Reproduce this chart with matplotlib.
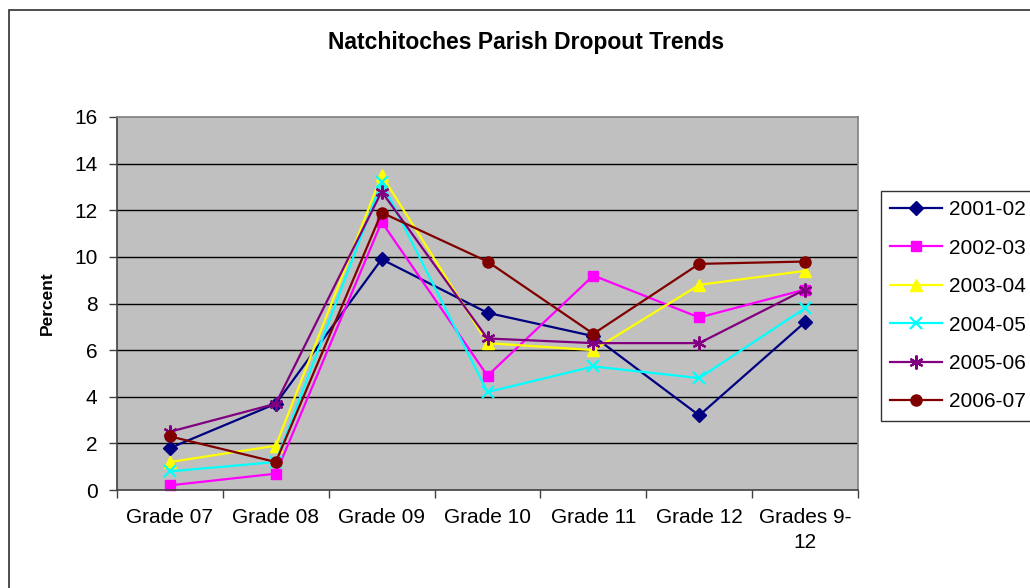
import matplotlib
matplotlib.use("Agg")
import matplotlib.pyplot as plt
from matplotlib.patches import Rectangle
from matplotlib.ticker import FixedLocator

plt.rcParams['font.family'] = ['Liberation Sans', 'DejaVu Sans']

grades = ["Grade 07", "Grade 08", "Grade 09", "Grade 10", "Grade 11",
          "Grade 12", "Grades 9-\n12"]
years = ["2001-02", "2002-03", "2003-04", "2004-05", "2005-06", "2006-07"]

y2001 = [1.8, 3.7, 9.9, 7.6, 6.6, 3.2, 7.2]
y2002 = [0.2, 0.7, 11.5, 4.9, 9.2, 7.4, 8.6]
y2003 = [1.2, 1.9, 13.5, 6.3, 6.0, 8.8, 9.4]
y2004 = [0.8, 1.2, 13.2, 4.2, 5.3, 4.8, 7.8]
y2005 = [2.5, 3.7, 12.8, 6.5, 6.3, 6.3, 8.6]
y2006 = [2.3, 1.2, 11.9, 9.8, 6.7, 9.7, 9.8]
series = [y2001, y2002, y2003, y2004, y2005, y2006]

colors = ["#000080", "#FF00FF", "#FFFF00", "#00FFFF", "#800080", "#800000"]
markers = ["D", "s", "^", "x", (6, 2, 0), "o"]
msizes = [7, 7, 9, 9, 10, 8]

fig = plt.figure(figsize=(10.3, 5.88), dpi=100)

# outer chart border
fig.patches.append(Rectangle((9 / 1030, -0.1), 1.2, 1.1 - 10 / 588,
                             transform=fig.transFigure, fill=False,
                             edgecolor="#303030", linewidth=1.2))

ax = fig.add_axes([117 / 1030, 1 - 490 / 588, 741 / 1030, 373 / 588])
ax.set_facecolor("#C0C0C0")

x = list(range(len(grades)))
for vals, name, c, m, ms in zip(series, years, colors, markers, msizes):
    mew = 1.6 if m in ("x", (6, 2, 0)) else 1
    ax.plot(x, vals, color=c, marker=m, markersize=ms, linewidth=1.6,
            markeredgewidth=mew, label=name, clip_on=False)

ax.set_xlim(-0.5, len(grades) - 0.5)
ax.set_ylim(0, 16)
ax.set_yticks(range(0, 17, 2))
for yv in range(2, 16, 2):
    ax.axhline(yv, color="black", linewidth=1.0, zorder=0.5)

ax.set_xticks(x)
ax.set_xticklabels(grades, linespacing=1.4)
ax.xaxis.set_minor_locator(FixedLocator([i + 0.5 for i in range(-1, len(grades))]))
ax.tick_params(axis="x", which="major", length=0, pad=13, labelsize=15)
ax.tick_params(axis="x", which="minor", length=6, color="#404040", width=1)
ax.tick_params(axis="y", length=6, color="#404040", width=1, pad=8, labelsize=15)

ax.spines["left"].set_color("#404040")
ax.spines["bottom"].set_color("#404040")
ax.spines["top"].set_color("#808080")
ax.spines["right"].set_color("#808080")
for s in ax.spines.values():
    s.set_linewidth(1.2)

ax.set_ylabel("Percent", fontsize=12.5, fontweight="bold", labelpad=14)
fig.text(526 / 1030, 1 - 43 / 588, "Natchitoches Parish Dropout Trends",
         ha="center", va="center", fontsize=16.5, fontweight="bold")

leg = ax.legend(loc="upper left", bbox_to_anchor=(881 / 1030, 1 - 191 / 588),
                bbox_transform=fig.transFigure, fontsize=15, frameon=True,
                fancybox=False, edgecolor="black", handlelength=2.5,
                labelspacing=0.93, borderpad=0.45, handletextpad=0.3,
                borderaxespad=0)
leg.get_frame().set_linewidth(1.0)

fig.savefig("out.png", dpi=100)
